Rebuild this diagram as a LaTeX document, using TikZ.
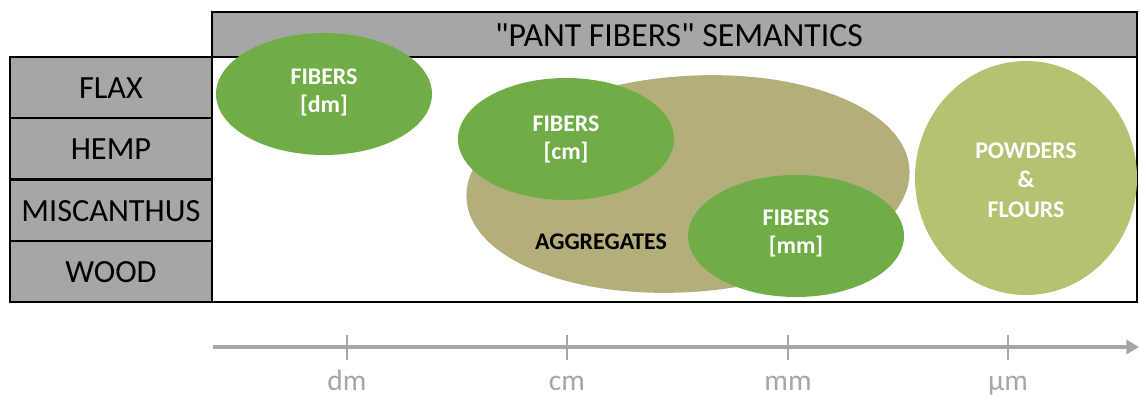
\documentclass[tikz,border=0pt]{standalone}
\usepackage{fontspec}
\setmainfont{Carlito}[Ligatures=TeXOff]
\usetikzlibrary{arrows.meta}
\definecolor{boxgray}{HTML}{A6A6A6}
\definecolor{leafgreen}{HTML}{70AD47}
\definecolor{khaki}{HTML}{B3AF7B}
\definecolor{paleolive}{HTML}{B6C172}
\definecolor{axisgray}{HTML}{A6A6A6}
\tikzset{
  cellbox/.style={draw=black, line width=1pt, fill=boxgray},
  rowlabel/.style={font=\fontsize{23}{23}\selectfont},
  fiberlabel/.style={text=white, font=\bfseries\fontsize{17}{20}\selectfont, align=center},
  scalelabel/.style={text=axisgray, font=\fontsize{21}{21}\selectfont, anchor=base},
}
\begin{document}
\begin{tikzpicture}[x=0.025cm, y=-0.025cm]
        \useasboundingbox (0,0) rectangle (1139,397);
        % header and rows
        \draw[cellbox] (212,12) rectangle (1137,57);
        \node[font=\fontsize{24}{24}\selectfont] (title) at (679,35) {"PANT FIBERS" SEMANTICS};
        \foreach \top/\word in {57/FLAX,118/HEMP,180/MISCANTHUS,241/WOOD}{
          \draw[cellbox] (10,\top) rectangle (212,\top+61);
          \node[rowlabel] (\word) at (111,\top+31) {\word};
        }
        \draw[line width=1pt] (212,57) rectangle (1137,302);
        % size classes
        \fill[khaki, rotate around={4:(688,184)}] (688,184) ellipse [x radius=222, y radius=108];
        \fill[leafgreen] (324,94) ellipse [x radius=108, y radius=61];
        \fill[leafgreen] (566,139) ellipse [x radius=108, y radius=61];
        \fill[leafgreen] (796,236) ellipse [x radius=108, y radius=61];
        \fill[paleolive] (1026,178) ellipse [x radius=111, y radius=117];
        \node[fiberlabel] (dmfib) at (324,92) {FIBERS\\{}[dm]};
        \node[fiberlabel] (cmfib) at (566,139) {FIBERS\\{}[cm]};
        \node[fiberlabel] (mmfib) at (796,233) {FIBERS\\{}[mm]};
        \node[font=\bfseries\fontsize{17}{17}\selectfont] (aggr) at (601,242) {AGGREGATES};
        \node[fiberlabel, font=\bfseries\fontsize{17}{21}\selectfont] (powder) at (1026,180) {POWDERS\\\&\\FLOURS};
        % scale axis
        \coordinate (axisstart) at (213,347);
        \coordinate (axisend) at (1139,347);
        \draw[axisgray, line width=2.2pt, -{Triangle[length=9pt,width=10pt]}] (axisstart) -- (axisend);
        \foreach \x/\unit [count=\i] in {347/dm,567/cm,788/mm,1008/µm}{
          \draw[axisgray, line width=1.5pt] (\x,335) -- (\x,360);
          \node[scalelabel] (scale\i) at (\x,390) {\unit};
        }
      \end{tikzpicture}
\end{document}
